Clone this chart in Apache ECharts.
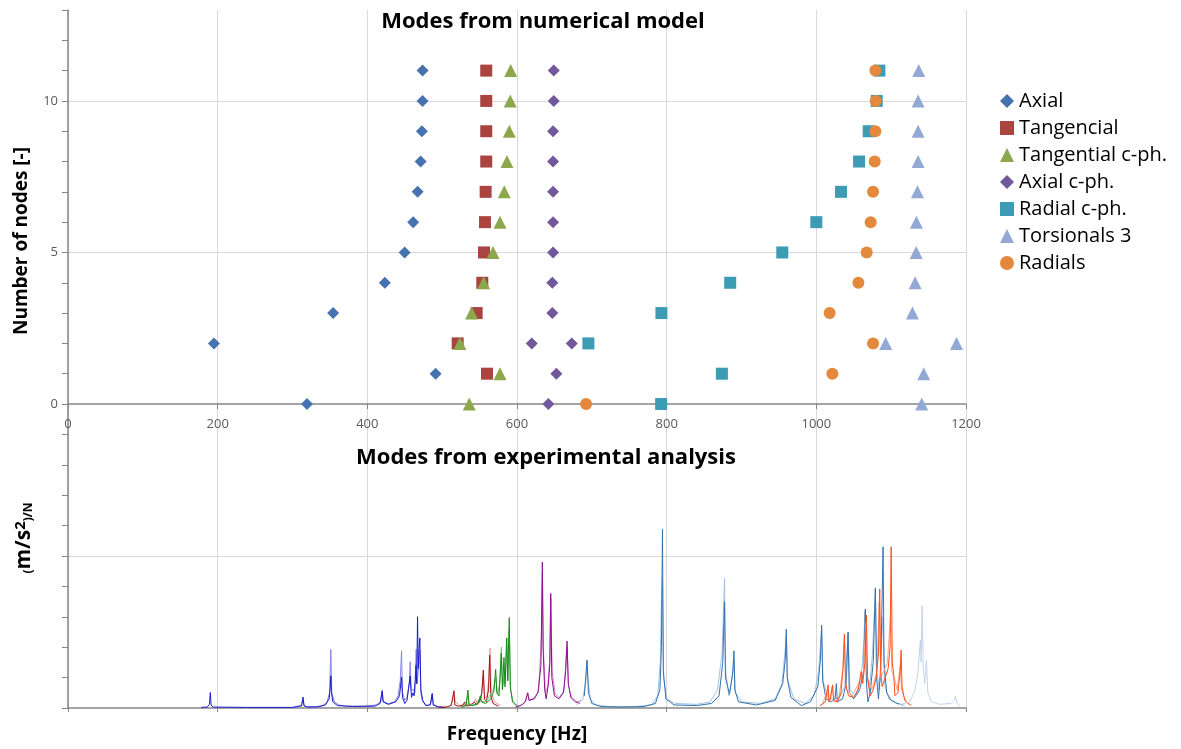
<!DOCTYPE html>
<html lang="en">
<head>
<meta charset="UTF-8">
<title>Modes</title>
<script src="https://cdn.jsdelivr.net/npm/echarts@6/dist/echarts.min.js"></script>
<style>
html,body{margin:0;padding:0;background:#fff}
#chartBox{width:1181px;height:749px}
</style>
</head>
<body>
<div id="chartBox"></div>
<script>
// numerical model: [frequency Hz, number of nodes]
const axial = [[319.4,0],[491.3,1],[195.0,2],[354.3,3],[423.4,4],[449.8,5],[461.3,6],[467.2,7],[471.2,8],[472.9,9],[473.8,10],[473.8,11]];
const tangencial = [[559.9,1],[520.7,2],[546.1,3],[553.6,4],[555.9,5],[557.2,6],[558.1,7],[558.9,8],[558.9,9],[558.9,10],[558.9,11]];
const tangentialCph = [[536.2,0],[577.3,1],[523.7,2],[539.4,3],[555.4,4],[567.9,5],[577.3,6],[583.0,7],[586.6,8],[589.7,9],[591.0,10],[591.6,11]];
const axialCph = [[641.9,0],[652.6,1],[619.7,2],[673.2,2],[647.2,3],[647.2,4],[648.2,5],[648.2,6],[648.2,7],[648.2,8],[648.2,9],[649.1,10],[649.1,11]];
const radialCph = [[792.6,0],[873.8,1],[695.4,2],[793.0,3],[884.9,4],[954.5,5],[1000,6],[1033.0,7],[1057.1,8],[1070.0,9],[1080.7,10],[1084.3,11]];
const torsionals3 = [[1140.9,0],[1143.5,1],[1092.7,2],[1187.3,2],[1128.4,3],[1132.0,4],[1133.4,5],[1133.8,6],[1135.1,7],[1136.0,8],[1136.0,9],[1136.0,10],[1136.9,11]];
const radials = [[692.3,0],[1021.4,1],[1075.8,2],[1017.8,3],[1056.2,4],[1067.3,5],[1072.6,6],[1075.8,7],[1078.0,8],[1078.9,9],[1079.3,10],[1078.9,11]];

// experimental spectra: [frequency Hz, amplitude]
const blueDark = [[178,0.02],[186,0.03],[189,0.12],[190.2,0.51],[191.2,0.1],[194,0.03],[240,0.02],[300,0.02],[312,0.08],[314.1,0.36],[315.3,0.08],[320,0.03],[335,0.04],[344,0.1],[349,0.3],[350.5,0.7],[351.2,1.06],[352,0.5],[354,0.2],[360,0.08],[380,0.05],[410,0.06],[417,0.15],[419.8,0.55],[421,0.2],[428,0.12],[438,0.2],[443,0.4],[445.7,1.02],[447,0.35],[450,0.15],[453,0.25],[457.3,1.05],[459,0.35],[461,0.5],[462.5,0.4],[464,0.9],[465,1.4],[466,0.8],[467.1,3.0],[468,1.3],[469,1.9],[470.2,2.3],[471.5,0.6],[474,0.25],[478,0.08],[484,0.1],[486.7,0.48],[488,0.1],[495,0.03],[505,0.02]];
const blueLight = [[300,0.02],[312,0.05],[314,0.25],[316,0.05],[330,0.04],[340,0.08],[346,0.18],[349.5,0.5],[351.2,1.93],[352.5,0.5],[356,0.2],[362,0.1],[372,0.06],[395,0.06],[412,0.1],[418,0.2],[419.8,0.59],[421.5,0.22],[428,0.14],[436,0.2],[441,0.4],[444,0.9],[445.7,1.88],[447,0.5],[450,0.25],[453,0.35],[456,0.8],[457.3,1.52],[458.5,0.6],[460,0.55],[462,0.6],[463.5,0.5],[465.3,1.93],[466.5,0.8],[468,1.2],[470.2,1.9],[471.5,0.5],[474,0.2],[480,0.08],[485,0.15],[486.7,0.45],[488.5,0.12],[494,0.05],[500,0.03]];
const redDark = [[495,0.02],[505,0.03],[512,0.08],[515.7,0.55],[517,0.1],[522,0.06],[528,0.1],[530,0.2],[531.5,0.07],[538,0.08],[543,0.2],[544.7,0.26],[546,0.1],[550,0.2],[553,0.5],[555,1.25],[556.5,0.3],[559,0.2],[562,0.6],[563.5,1.74],[565,0.4],[568,0.15],[575,0.06]];
const redLight = [[510,0.05],[514,0.2],[515.7,0.59],[517.5,0.2],[524,0.08],[542,0.15],[544.7,0.3],[547,0.15],[552,0.3],[555,1.1],[557,0.3],[560,0.4],[562.5,1.0],[564,1.98],[565.5,0.5],[570,0.2],[578,0.08]];
const greenDark = [[525,0.03],[532,0.08],[534.4,0.59],[536,0.1],[542,0.08],[548,0.15],[551,0.4],[552.5,0.2],[558,0.15],[565,0.3],[569,0.55],[571.5,1.27],[573,0.5],[576,0.4],[579,1.8],[580.5,0.6],[582.6,1.66],[584,0.7],[586.2,2.3],[587.5,0.9],[589.7,2.97],[591,0.7],[594,0.2],[600,0.05]];
const greenLight = [[530,0.05],[534,0.4],[536,0.1],[545,0.12],[550,0.3],[553,0.2],[560,0.25],[568,0.6],[571.9,0.98],[574,0.45],[577,0.8],[579,2.0],[581,0.7],[583,1.1],[584.5,0.8],[586.2,2.31],[588,0.9],[589.7,2.6],[591.5,0.6],[595,0.2],[602,0.05]];
const purpleDark = [[598,0.03],[605,0.08],[611,0.2],[614.3,0.5],[616,0.25],[622,0.3],[628,0.5],[632,1.4],[633.9,4.8],[634.8,2.0],[636,2.0],[637,0.6],[639,0.3],[642,0.8],[644,1.5],[645.1,3.77],[646.5,1.0],[650,0.4],[656,0.3],[662,0.5],[665,1.2],[666.9,2.2],[668.5,0.8],[672,0.35],[678,0.2],[684,0.15]];
const purpleLight = [[600,0.05],[608,0.12],[612,0.25],[614.3,0.5],[616.5,0.25],[624,0.3],[629,0.6],[632.5,2.3],[633.9,4.5],[635.5,1.8],[638,0.5],[641,0.7],[643.5,1.5],[645.1,3.6],[647,1.2],[651,0.45],[657,0.35],[663,0.6],[666,1.8],[667,2.0],[669,0.7],[673,0.35],[680,0.2],[686,0.25]];
const steelDark = [[690,0.4],[693.6,1.58],[695.5,0.5],[700,0.15],[712,0.05],[740,0.03],[770,0.05],[785,0.15],[791,0.6],[793,2.0],[794.4,5.88],[795.5,1.2],[799,0.3],[810,0.1],[840,0.08],[860,0.15],[870,0.4],[875,1.5],[877.3,3.5],[878.5,1.0],[884,0.45],[888.5,1.2],[889.9,1.88],[891,0.6],[896,0.2],[920,0.1],[945,0.25],[955,0.8],[958.5,1.6],[959.9,2.59],[961,1.0],[966,0.35],[980,0.08],[992,0.2],[1002,0.7],[1005.5,1.6],[1007.1,2.72],[1008.5,0.9],[1013,0.3],[1020,0.2],[1025,0.3],[1026.8,0.8],[1028,0.2],[1035,0.3],[1040,0.8],[1042.4,2.5],[1044,0.5],[1050,0.3],[1058,0.6],[1063,1.2],[1065.5,3.26],[1067,0.8],[1069,0.2],[1072,0.5],[1076,1.5],[1078.9,3.95],[1080.5,1.0],[1083,0.3],[1086,1.2],[1089.2,5.3],[1090.5,1.5],[1094,0.5],[1100,0.25],[1108,0.15],[1115,0.1]];
const steelLight = [[680,0.1],[688,0.3],[692,0.9],[693.6,1.5],[695,0.9],[698,0.3],[705,0.1],[720,0.05],[760,0.05],[780,0.1],[788,0.4],[791.5,1.5],[793,3.5],[794.4,4.3],[796,1.0],[800,0.3],[812,0.15],[840,0.12],[858,0.2],[868,0.6],[874,1.8],[877.3,4.27],[879,1.2],[883,0.4],[887,0.9],[889.9,1.6],[892,0.5],[900,0.2],[925,0.15],[945,0.3],[954,0.8],[958,1.8],[959.9,2.4],[962,0.9],[970,0.3],[985,0.15],[997,0.4],[1003,1.2],[1006,2.3],[1007.1,2.6],[1009,0.9],[1016,0.3],[1030,0.3],[1038,0.7],[1042.4,2.45],[1045,0.6],[1052,0.4],[1060,1.0],[1063,2.0],[1065,3.2],[1067,1.0],[1071,0.6],[1075,1.8],[1078.9,3.9],[1081,1.2],[1084,0.6],[1087,2.0],[1089,3.0],[1091,0.8],[1097,0.3],[1108,0.15],[1118,0.08]];
const orangeDark = [[1005,0.08],[1012,0.2],[1015.7,0.76],[1017,0.2],[1019,0.3],[1021.8,0.76],[1023,0.25],[1028,0.2],[1033,0.5],[1036,1.4],[1037.5,2.43],[1039,0.8],[1043,0.4],[1050,0.35],[1056,0.6],[1059.8,1.2],[1062,0.8],[1065,1.5],[1066.9,3.06],[1068.5,1.0],[1072,0.4],[1076,0.6],[1080,1.0],[1083,1.8],[1084.7,3.91],[1086,1.2],[1088,0.7],[1092,1.0],[1096,1.3],[1098.5,2.0],[1100,5.3],[1101.5,1.5],[1103.4,1.1],[1105,0.4],[1109,0.5],[1112,1.2],[1113.3,1.9],[1114.5,0.7],[1118,0.25],[1125,0.1]];
const orangeLight = [[1008,0.1],[1015,0.6],[1017,0.2],[1021,0.7],[1024,0.2],[1030,0.3],[1035,1.2],[1037.5,2.3],[1040,0.6],[1048,0.4],[1058,0.9],[1060,1.0],[1063,1.2],[1066,2.8],[1068,1.0],[1074,0.6],[1081,1.2],[1084,3.5],[1086,1.0],[1090,1.2],[1095,1.5],[1099,3.0],[1101,1.2],[1104,1.0],[1108,0.6],[1112,1.4],[1114,0.6],[1120,0.2],[1128,0.08]];
const paleBlue = [[1110,0.1],[1125,0.2],[1132,0.6],[1136,1.2],[1139,2.24],[1140,1.5],[1141.4,3.36],[1143,1.3],[1145,0.8],[1147.2,1.58],[1149,0.5],[1154,0.2],[1165,0.12],[1180,0.15],[1184,0.25],[1186,0.4],[1188,0.15],[1192,0.05]];

const FONT = '"Open Sans", sans-serif';
const AXIS_GREY = '#868686';
const GRID_GREY = '#d9d9d9';
const T = 'transparent';

function scatter(name, data, symbol, size, color) {
    return {type: 'scatter', name: name, data: data, symbol: symbol, symbolSize: size,
        xAxisIndex: 0, yAxisIndex: 0, itemStyle: {color: color, opacity: 1}};
}
function trace(data, color) {
    return {type: 'line', data: data, xAxisIndex: 1, yAxisIndex: 1, symbol: 'none', silent: true,
        lineStyle: {width: 1, color: color}, z: 1};
}

let chartObj = echarts.init(document.getElementById('chartBox'));
let option = {
    animation: false,
    title: [
        {text: 'Modes from numerical model', left: 538, top: 6, textAlign: 'center',
            textStyle: {fontFamily: FONT, fontWeight: 'bold', fontSize: 22, color: '#000'}},
        {text: 'Modes from experimental analysis', left: 541, top: 442, textAlign: 'center',
            textStyle: {fontFamily: FONT, fontWeight: 'bold', fontSize: 22, color: '#000'}}
    ],
    grid: [
        {left: 68, right: 215, top: 10, height: 394, outerBoundsMode: 'none', containLabel: false},
        {left: 68, right: 215, top: 404, height: 304, outerBoundsMode: 'none', containLabel: false}
    ],
    xAxis: [
        {type: 'value', gridIndex: 0, min: 0, max: 1200, interval: 200,
            axisLine: {lineStyle: {color: AXIS_GREY, width: 1.5}},
            axisTick: {show: true, length: 5, lineStyle: {color: AXIS_GREY}},
            axisLabel: {fontFamily: FONT, fontSize: 13, color: '#595959', margin: 14,
                formatter: v => String(v)},
            splitLine: {show: true, lineStyle: {color: GRID_GREY}}},
        {type: 'value', gridIndex: 1, min: 0, max: 1200, interval: 200,
            name: 'Frequency [Hz]', nameLocation: 'middle', nameGap: 17,
            nameTextStyle: {fontFamily: FONT, fontWeight: 'bold', fontSize: 19, color: '#000'},
            axisLine: {lineStyle: {color: AXIS_GREY, width: 1.5}},
            axisTick: {show: true, length: 4, lineStyle: {color: AXIS_GREY}},
            axisLabel: {show: false},
            splitLine: {show: true, lineStyle: {color: GRID_GREY}}}
    ],
    yAxis: [
        {type: 'value', gridIndex: 0, min: 0, max: 13, interval: 1,
            axisLine: {show: true, lineStyle: {color: AXIS_GREY, width: 1.5}},
            axisTick: {show: true, length: 6, lineStyle: {color: AXIS_GREY}},
            axisLabel: {fontFamily: FONT, fontSize: 13, color: '#595959', margin: 10,
                formatter: v => (v % 5 === 0 ? String(v) : '')},
            splitLine: {show: true, lineStyle: {color: [T, T, T, T, T, GRID_GREY, T, T, T, T, GRID_GREY, T, T, T]}}},
        {type: 'value', gridIndex: 1, min: 0, max: 10, interval: 1,
            axisLine: {show: true, lineStyle: {color: AXIS_GREY, width: 1.5}},
            axisTick: {show: true, length: 6, lineStyle: {color: AXIS_GREY}},
            axisLabel: {show: false},
            splitLine: {show: true, lineStyle: {color: [T, T, T, T, T, GRID_GREY, T, T, T, T, T]}}}
    ],
    legend: {
        orient: 'vertical', left: 995, top: 85, itemWidth: 14, itemHeight: 14, itemGap: 5,
        textStyle: {fontFamily: FONT, fontSize: 20, color: '#000', lineHeight: 22},
        data: [
            {name: 'Axial', icon: 'diamond'},
            {name: 'Tangencial', icon: 'rect'},
            {name: 'Tangential c-ph.', icon: 'triangle'},
            {name: 'Axial c-ph.', icon: 'diamond'},
            {name: 'Radial c-ph.', icon: 'rect'},
            {name: 'Torsionals 3', icon: 'triangle'},
            {name: 'Radials', icon: 'circle'}
        ]
    },
    graphic: [
        {
            type: 'text', x: 22, y: 241, rotation: Math.PI / 2,
            style: {text: 'Number of nodes [-]', align: 'center', verticalAlign: 'middle',
                fontFamily: FONT, fontSize: 19, fontWeight: 'bold', fill: '#000'}
        },
        {
            type: 'text', x: 24, y: 538, rotation: Math.PI / 2,
            style: {
                text: '{s|(}{a|m/s}{b|2}{s|)/N}', align: 'center', verticalAlign: 'middle',
                rich: {
                    s: {fontFamily: FONT, fontSize: 12, fontWeight: 'bold', fill: '#000', verticalAlign: 'bottom'},
                    a: {fontFamily: FONT, fontSize: 21, fontWeight: 'bold', fill: '#000'},
                    b: {fontFamily: FONT, fontSize: 15, fontWeight: 'bold', fill: '#000', verticalAlign: 'top'}
                }
            }
        }
    ],
    series: [
        trace(blueLight, '#8585ec'),
        trace(blueDark, '#1c1cc8'),
        trace(redLight, '#e9a0a0'),
        trace(redDark, '#a41616'),
        trace(greenLight, '#80c280'),
        trace(greenDark, '#168a16'),
        trace(purpleLight, '#d08ad0'),
        trace(purpleDark, '#8e108e'),
        trace(steelLight, '#a3c3e3'),
        trace(steelDark, '#3472b0'),
        trace(orangeLight, '#ffa587'),
        trace(orangeDark, '#ff4f1a'),
        trace(paleBlue, '#c3d3ea'),
        scatter('Axial', axial, 'diamond', 12, '#4672b0'),
        scatter('Tangencial', tangencial, 'rect', 12, '#a94441'),
        scatter('Tangential c-ph.', tangentialCph, 'triangle', 13, '#8da84c'),
        scatter('Axial c-ph.', axialCph, 'diamond', 12, '#72589a'),
        scatter('Radial c-ph.', radialCph, 'rect', 12, '#3d9bb3'),
        scatter('Torsionals 3', torsionals3, 'triangle', 13, '#92a9d6'),
        scatter('Radials', radials, 'circle', 12, '#e4883c')
    ]
};
chartObj.setOption(option);
</script>
</body>
</html>
